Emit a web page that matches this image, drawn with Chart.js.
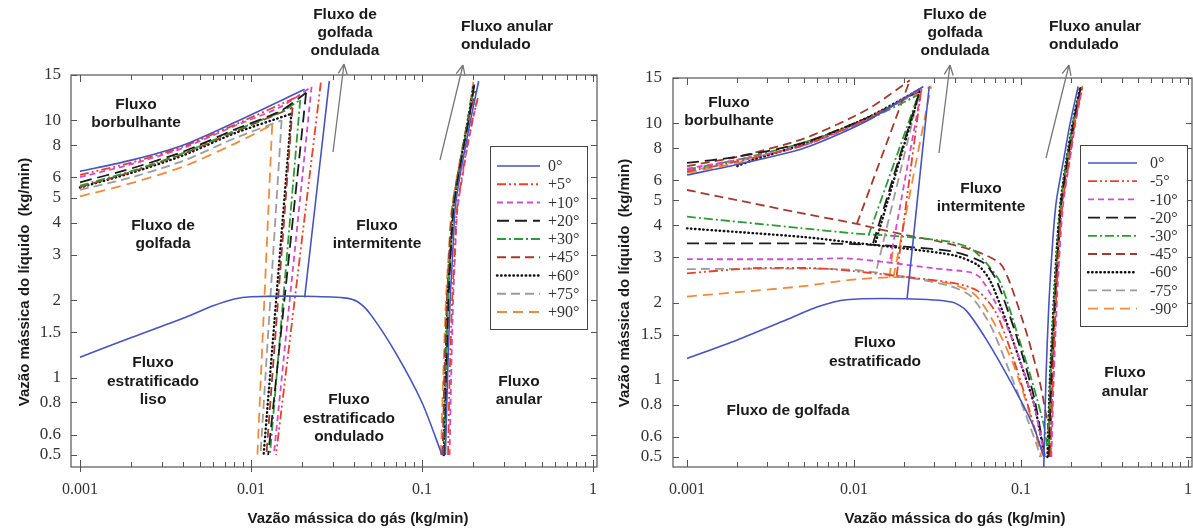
<!DOCTYPE html>
<html>
<head>
<meta charset="utf-8">
<script src="https://cdn.jsdelivr.net/npm/chart.js@4.4.1/dist/chart.umd.min.js"></script>
<style>
html, body { margin: 0; padding: 0; background: #fff; }
#wrap { position: relative; width: 1193px; height: 530px; overflow: hidden; }
.painel { position: absolute; top: 0; height: 530px; }
</style>
</head>
<body>
<div id="wrap">
  <div class="painel" style="left:0;width:600px"><canvas id="graficoEsq" width="600" height="530"></canvas></div>
  <div class="painel" style="left:600px;width:593px"><canvas id="graficoDir" width="593" height="530"></canvas></div>
</div>
<script>
// eixos
const yTicks = [0.5, 0.6, 0.8, 1, 1.5, 2, 3, 4, 5, 6, 8, 10, 15];
const xTicks = [0.001, 0.01, 0.1, 1];
const xMenores = [0.002, 0.003, 0.004, 0.005, 0.006, 0.007, 0.008, 0.009,
                  0.02, 0.03, 0.04, 0.05, 0.06, 0.07, 0.08, 0.09,
                  0.2, 0.3, 0.4, 0.5, 0.6, 0.7, 0.8, 0.9];

const angulosEsq = ['0°', '+5°', '+10°', '+20°', '+30°', '+45°', '+60°', '+75°', '+90°'];
const angulosDir = ['0°', '-5°', '-10°', '-20°', '-30°', '-45°', '-60°', '-75°', '-90°'];

// painel esquerdo (inclinações positivas): cada série = lista de trechos [x, y]
const esq0 = [
    [[0.001, 6.33], [0.002, 7.0], [0.004, 8.0], [0.008, 9.8], [0.0206, 13.2]],
    [[0.0287, 14.2], [0.0206, 2.05]],
    [[0.001, 1.2], [0.002, 1.43], [0.004, 1.7], [0.006, 1.9], [0.008, 2.02], [0.01, 2.06], [0.02, 2.07], [0.035, 2.04], [0.042, 1.97], [0.05, 1.76], [0.07, 1.25], [0.1, 0.8], [0.131, 0.5]],
    [[0.137, 0.5], [0.141, 1], [0.146, 2], [0.151, 3], [0.156, 4.5], [0.166, 6], [0.18, 8], [0.195, 10.5], [0.2145, 14.2]]
];
const esqP5 = [
    [[0.001, 6.14], [0.002, 6.85], [0.004, 7.9], [0.008, 9.6], [0.02, 12.6]],
    [[0.0256, 14.0], [0.014, 0.5]],
    [[0.142, 0.5], [0.145, 1], [0.15, 2], [0.155, 3], [0.16, 4.5], [0.171, 6], [0.184, 8], [0.197, 10], [0.212, 12.2]]
];
const esqP10 = [
    [[0.001, 6.01], [0.002, 6.75], [0.004, 7.8], [0.008, 9.5], [0.015, 11.3], [0.0226, 13.5]],
    [[0.0226, 13.5], [0.0136, 0.5]],
    [[0.145, 0.5], [0.148, 1], [0.152, 2], [0.156, 3], [0.161, 4.5], [0.172, 6], [0.185, 8], [0.198, 10], [0.21, 12.0]]
];
const esqP20 = [
    [[0.001, 5.74], [0.002, 6.5], [0.004, 7.55], [0.008, 9.2], [0.015, 10.9], [0.021, 12.8]],
    [[0.021, 12.8], [0.0126, 0.5]],
    [[0.136, 0.5], [0.139, 1], [0.143, 2], [0.147, 3], [0.153, 4.5], [0.163, 6], [0.176, 8], [0.19, 10.5], [0.203, 14.0]]
];
const esqP30 = [
    [[0.001, 5.57], [0.002, 6.35], [0.004, 7.45], [0.008, 9.1], [0.015, 10.8], [0.0194, 12.0]],
    [[0.0194, 12.0], [0.0129, 0.5]],
    [[0.135, 0.5], [0.138, 1], [0.142, 2], [0.146, 3], [0.152, 4.5], [0.162, 6], [0.175, 8], [0.189, 10.5], [0.202, 13.8]]
];
const esqP45 = [
    [[0.001, 5.5], [0.002, 6.3], [0.004, 7.4], [0.008, 9.0], [0.0175, 11.2]],
    [[0.0175, 11.2], [0.0123, 0.5]],
    [[0.132, 0.5], [0.135, 1], [0.14, 2], [0.144, 3], [0.15, 4.5], [0.161, 6], [0.175, 8], [0.19, 10.5], [0.205, 13.0]]
];
const esqP60 = [
    [[0.001, 5.48], [0.002, 6.25], [0.004, 7.3], [0.008, 8.9], [0.0172, 10.6]],
    [[0.0172, 10.6], [0.01185, 0.5]],
    [[0.134, 0.5], [0.137, 1], [0.141, 2], [0.146, 3], [0.152, 4.5], [0.162, 6], [0.175, 8], [0.188, 10.5], [0.2, 13.5]]
];
const esqP75 = [
    [[0.001, 5.37], [0.002, 6.0], [0.004, 6.95], [0.008, 8.5], [0.0151, 10.0]],
    [[0.0151, 10.0], [0.01136, 0.5]],
    [[0.133, 0.5], [0.136, 1], [0.14, 2], [0.145, 3], [0.151, 4.5], [0.161, 6], [0.174, 8], [0.187, 10.5], [0.199, 13.7]]
];
const esqP90 = [
    [[0.001, 5.06], [0.002, 5.7], [0.004, 6.6], [0.008, 8.1], [0.0133, 9.6]],
    [[0.0133, 9.6], [0.0109, 0.5]],
    [[0.129, 0.5], [0.133, 1], [0.138, 2], [0.143, 3], [0.149, 4.5], [0.16, 6], [0.173, 8], [0.187, 10.5], [0.1995, 14.1]]
];

// painel direito (inclinações negativas)
const dir0 = [
    [[0.001, 6.28], [0.002, 6.9], [0.005, 7.98], [0.0116, 10.1], [0.026, 13.9]],
    [[0.0282, 13.9], [0.0208, 2.08]],
    [[0.001, 1.21], [0.002, 1.43], [0.004, 1.72], [0.006, 1.92], [0.009, 2.05], [0.02, 2.07], [0.0385, 2.01], [0.047, 1.86], [0.0622, 1.43], [0.09, 0.94], [0.1186, 0.66], [0.137, 0.5]],
    [[0.137, 0.457], [0.141, 1], [0.147, 2], [0.155, 3.5], [0.163, 5], [0.18, 7.2], [0.197, 10], [0.22, 13.9]]
];
const dirM5 = [
    [[0.001, 6.47], [0.002, 7.1], [0.005, 8.2], [0.012, 10.4], [0.025, 13.6]],
    [[0.018, 2.55], [0.0253, 13.6]],
    [[0.001, 2.6], [0.0025, 2.72], [0.006, 2.72], [0.01, 2.65], [0.02, 2.52], [0.04, 2.38], [0.055, 2.22], [0.07, 1.85], [0.085, 1.35], [0.105, 0.88], [0.125, 0.6], [0.138, 0.5]],
    [[0.15, 0.5], [0.155, 1], [0.162, 2], [0.17, 3.5], [0.178, 5], [0.195, 7.2], [0.21, 10], [0.232, 13.8]]
];
const dirM10 = [
    [[0.001, 6.65], [0.002, 7.2], [0.005, 8.2], [0.012, 10.3], [0.0254, 13.6]],
    [[0.0165, 2.95], [0.0254, 13.6]],
    [[0.001, 2.95], [0.005, 2.95], [0.009, 2.97], [0.015, 2.88], [0.03, 2.72], [0.05, 2.62], [0.057, 2.5], [0.075, 1.85], [0.094, 1.3], [0.118, 0.83], [0.135, 0.55], [0.14, 0.5]],
    [[0.152, 0.5], [0.157, 1], [0.164, 2], [0.172, 3.5], [0.18, 5], [0.196, 7.2], [0.212, 10], [0.233, 13.8]]
];
const dirM20 = [
    [[0.001, 7.0], [0.002, 7.4], [0.005, 8.4], [0.012, 10.5], [0.0248, 13.4]],
    [[0.013, 3.4], [0.0248, 13.4]],
    [[0.001, 3.4], [0.005, 3.4], [0.01, 3.38], [0.02, 3.3], [0.04, 3.15], [0.06, 2.85], [0.07, 2.5], [0.085, 1.8], [0.1, 1.3], [0.12, 0.85], [0.136, 0.55], [0.14, 0.5]],
    [[0.147, 0.5], [0.152, 1], [0.16, 2], [0.168, 3.5], [0.175, 5], [0.19, 7.2], [0.207, 10], [0.228, 13.8]]
];
const dirM30 = [
    [[0.001, 6.6], [0.002, 7.2], [0.005, 8.4], [0.012, 10.3], [0.0243, 12.9]],
    [[0.0122, 3.65], [0.0243, 12.9]],
    [[0.001, 4.32], [0.0048, 3.9], [0.01, 3.72], [0.019, 3.62], [0.0375, 3.45], [0.05, 3.25], [0.062, 2.85], [0.075, 2.4], [0.094, 1.55], [0.119, 0.94], [0.139, 0.64], [0.143, 0.55]],
    [[0.146, 0.55], [0.15, 1], [0.158, 2], [0.166, 3.5], [0.174, 5], [0.188, 7.2], [0.205, 10], [0.226, 13.6]]
];
const dirM45 = [
    [[0.001, 6.8], [0.002, 7.4], [0.005, 8.7], [0.012, 11.3], [0.0216, 14.7]],
    [[0.0104, 4.05], [0.0216, 14.7]],
    [[0.001, 5.49], [0.00475, 4.47], [0.0104, 4.05], [0.019, 3.7], [0.033, 3.45], [0.055, 3.15], [0.0749, 2.84], [0.086, 2.38], [0.108, 1.52], [0.13, 0.97], [0.146, 0.64], [0.149, 0.52]],
    [[0.15, 0.52], [0.154, 1], [0.161, 2], [0.169, 3.5], [0.177, 5], [0.193, 7.2], [0.21, 10], [0.232, 13.8]]
];
const dirM60 = [
    [[0.002, 6.8], [0.0025, 7.2], [0.005, 8.3], [0.012, 10.5], [0.025, 13.6]],
    [[0.0135, 3.45], [0.025, 13.6]],
    [[0.001, 3.89], [0.005, 3.6], [0.01, 3.42], [0.02, 3.25], [0.04, 3.05], [0.055, 2.8], [0.065, 2.45], [0.08, 1.75], [0.1, 1.15], [0.12, 0.8], [0.135, 0.55], [0.138, 0.5]],
    [[0.144, 0.5], [0.149, 1], [0.157, 2], [0.165, 3.5], [0.173, 5], [0.187, 7.2], [0.204, 10], [0.226, 13.8]]
];
const dirM75 = [
    [[0.001, 6.5], [0.002, 7.1], [0.005, 8.2], [0.012, 10.4], [0.0248, 13.4]],
    [[0.0137, 2.71], [0.0248, 13.4]],
    [[0.001, 2.7], [0.005, 2.71], [0.01, 2.68], [0.02, 2.52], [0.0375, 2.32], [0.05, 2.12], [0.065, 1.65], [0.08, 1.2], [0.1, 0.82], [0.125, 0.55], [0.13, 0.5]],
    [[0.145, 0.5], [0.15, 1], [0.158, 2], [0.166, 3.5], [0.174, 5], [0.188, 7.2], [0.205, 10], [0.227, 13.8]]
];
const dirM90 = [
    [[0.001, 6.4], [0.002, 7.0], [0.005, 8.3], [0.012, 10.5], [0.0289, 13.9]],
    [[0.0172, 2.5], [0.0289, 13.9]],
    [[0.0163, 2.5], [0.0172, 3.3]],
    [[0.001, 2.11], [0.0048, 2.31], [0.0095, 2.45], [0.019, 2.51], [0.0375, 2.37], [0.052, 2.17], [0.0622, 1.87], [0.075, 1.5], [0.09, 1.15], [0.11, 0.78], [0.128, 0.55], [0.132, 0.5]],
    [[0.146, 0.5], [0.151, 1], [0.159, 2], [0.167, 3.5], [0.175, 5], [0.19, 7.2], [0.207, 10], [0.233, 14.0]]
];

const seriesEsq = [esq0, esqP5, esqP10, esqP20, esqP30, esqP45, esqP60, esqP75, esqP90];
const seriesDir = [dir0, dirM5, dirM10, dirM20, dirM30, dirM45, dirM60, dirM75, dirM90];

// estilos
const cores = ['#4654c0', '#e8412e', '#d24bd2', '#1c1c1c', '#2e9a36', '#a43a2e', '#111111', '#9c9c9c', '#f28a3a'];
const tracos = [[], [9, 3, 2, 3, 2, 3], [6, 4], [12, 6], [9, 3, 2, 3], [9, 5], [0.5, 3.6], [9, 5], [10, 6]];
const larguras = [1.6, 1.8, 1.8, 1.8, 1.8, 1.8, 2.4, 1.8, 1.8];

const FONTE_SANS = '"Liberation Sans", Arial, sans-serif';
const FONTE_SERIF = '"Liberation Serif", "Times New Roman", serif';

function montarDatasets(series) {
    const ds = [];
    series.forEach((trechos, i) => {
        trechos.forEach(trecho => {
            ds.push({
                data: trecho.map(p => ({ x: p[0], y: p[1] })),
                borderColor: cores[i],
                borderWidth: larguras[i],
                borderDash: tracos[i],
                borderCapStyle: i === 6 ? 'round' : 'butt',
                showLine: true,
                pointRadius: 0,
                pointHoverRadius: 0,
                tension: 0.25,
                fill: false
            });
        });
    });
    return ds;
}

function desenharSeta(ctx, x0, y0, x1, y1) {
    const ang = Math.atan2(y1 - y0, x1 - x0);
    ctx.beginPath();
    ctx.moveTo(x0, y0);
    ctx.lineTo(x1, y1);
    [0.42, -0.42].forEach(d => {
        ctx.moveTo(x1, y1);
        ctx.lineTo(x1 - 11 * Math.cos(ang + d), y1 - 11 * Math.sin(ang + d));
    });
    ctx.stroke();
}

const decoracao = {
    id: 'decoracao',
    afterDraw(chart, args, cfg) {
        const { ctx, chartArea: a, scales: { x, y } } = chart;
        const dx = cfg.dx;
        ctx.save();

        // moldura
        ctx.strokeStyle = '#555';
        ctx.lineWidth = 1.2;
        ctx.setLineDash([]);
        ctx.strokeRect(a.left, a.top, a.right - a.left, a.bottom - a.top);

        // marcas dos eixos (para dentro)
        ctx.lineWidth = 1;
        ctx.beginPath();
        xMenores.forEach(v => {
            const px = Math.round(x.getPixelForValue(v)) + 0.5;
            ctx.moveTo(px, a.bottom); ctx.lineTo(px, a.bottom - 5);
            ctx.moveTo(px, a.top); ctx.lineTo(px, a.top + 5);
        });
        xTicks.forEach(v => {
            const px = Math.round(x.getPixelForValue(v)) + 0.5;
            ctx.moveTo(px, a.bottom + (cfg.marcaFora ? 5 : 0)); ctx.lineTo(px, a.bottom - 7);
            ctx.moveTo(px, a.top); ctx.lineTo(px, a.top + 7);
        });
        yTicks.forEach(v => {
            const py = Math.round(y.getPixelForValue(v)) + 0.5;
            ctx.moveTo(a.left, py); ctx.lineTo(a.left + 6, py);
            ctx.moveTo(a.right, py); ctx.lineTo(a.right - 6, py);
        });
        ctx.stroke();

        // títulos dos eixos
        ctx.fillStyle = '#1a1a1a';
        ctx.font = 'bold 15px ' + FONTE_SANS;
        ctx.textAlign = 'center';
        ctx.textBaseline = 'middle';
        ctx.fillText('Vazão mássica do gás (kg/min)', cfg.tituloX[0] - dx, cfg.tituloX[1]);
        ctx.save();
        ctx.translate(cfg.tituloY[0] - dx, cfg.tituloY[1]);
        ctx.rotate(-Math.PI / 2);
        ctx.fillText('Vazão mássica do líquido  (kg/min)', 0, 0);
        ctx.restore();

        // regiões de escoamento
        ctx.font = 'bold 15.5px ' + FONTE_SANS;
        cfg.textos.forEach(t => ctx.fillText(t[0], t[1] - dx, t[2]));
        ctx.textAlign = 'left';
        cfg.textosEsq.forEach(t => ctx.fillText(t[0], t[1] - dx, t[2]));

        // setas
        ctx.strokeStyle = '#777';
        ctx.lineWidth = 1.3;
        cfg.setas.forEach(s => desenharSeta(ctx, s[0] - dx, s[1], s[2] - dx, s[3]));

        // legenda
        const L = cfg.legenda;
        ctx.fillStyle = '#fff';
        ctx.fillRect(L.x - dx, L.y, L.w, L.h);
        ctx.strokeStyle = '#444';
        ctx.lineWidth = 1;
        ctx.strokeRect(L.x - dx + 0.5, L.y + 0.5, L.w, L.h);
        ctx.font = '16px ' + FONTE_SERIF;
        ctx.textAlign = 'left';
        cfg.rotulos.forEach((r, i) => {
            const ly = L.y0 + i * L.passo;
            ctx.strokeStyle = cores[i];
            ctx.lineWidth = larguras[i];
            ctx.lineCap = i === 6 ? 'round' : 'butt';
            ctx.setLineDash(tracos[i]);
            ctx.beginPath();
            ctx.moveTo(L.a0 - dx, ly);
            ctx.lineTo(L.a1 - dx, ly);
            ctx.stroke();
            ctx.setLineDash([]);
            ctx.fillStyle = '#333';
            ctx.fillText(r, L.tx - dx, ly + 1);
        });
        ctx.restore();
    }
};

function eixoX(min, max) {
    return {
        type: 'logarithmic', position: 'bottom', min: min, max: max,
        grid: { display: false, drawTicks: false },
        border: { display: false },
        afterBuildTicks: s => { s.ticks = xTicks.map(v => ({ value: v })); },
        afterFit: s => { s.height = 63; s.paddingLeft = 0; s.paddingRight = 0; },
        ticks: {
            autoSkip: false, maxRotation: 0, padding: 13, color: '#333',
            font: { family: FONTE_SERIF, size: 16 },
            callback: v => String(v)
        }
    };
}

function eixoY(min, largura, pad) {
    return {
        type: 'logarithmic', position: 'left', min: min, max: 15,
        grid: { display: false, drawTicks: false },
        border: { display: false },
        afterBuildTicks: s => { s.ticks = yTicks.map(v => ({ value: v })); },
        afterFit: s => { s.width = largura; s.paddingTop = 0; s.paddingBottom = 0; },
        ticks: {
            autoSkip: false, padding: pad, color: '#333',
            font: { family: FONTE_SERIF, size: 17 },
            callback: v => String(v)
        }
    };
}

function criarGrafico(id, series, xmin, xmax, ymin, largY, padY, topo, direita, cfg) {
    return new Chart(document.getElementById(id), {
        type: 'scatter',
        data: { datasets: montarDatasets(series) },
        options: {
            responsive: false,
            animation: false,
            devicePixelRatio: 1,
            events: [],
            layout: { padding: { top: topo, right: direita, left: 0, bottom: 0 } },
            scales: { x: eixoX(xmin, xmax), y: eixoY(ymin, largY, padY) },
            plugins: { legend: { display: false }, tooltip: { enabled: false }, decoracao: cfg }
        },
        plugins: [decoracao]
    });
}

criarGrafico('graficoEsq', seriesEsq, 0.000886, 1.055, 0.449, 71, 10, 75, 3, {
    dx: 0,
    marcaFora: true,
    tituloX: [358, 519],
    tituloY: [25, 282],
    textos: [
        ['Fluxo', 136, 105], ['borbulhante', 136, 123],
        ['Fluxo de', 163, 226], ['golfada', 163, 244],
        ['Fluxo', 153, 363], ['estratificado', 153, 382], ['liso', 153, 400],
        ['Fluxo', 349, 400], ['estratificado', 349, 419], ['ondulado', 349, 437],
        ['Fluxo', 377, 226], ['intermitente', 377, 244],
        ['Fluxo', 519, 382], ['anular', 519, 400],
        ['Fluxo de', 345, 15], ['golfada', 345, 33], ['ondulada', 345, 51]
    ],
    textosEsq: [['Fluxo anular', 461, 27], ['ondulado', 461, 45]],
    setas: [[333, 152, 344, 64], [440, 160, 463, 65]],
    legenda: { x: 490, y: 146, w: 97, h: 183, a0: 497, a1: 540, tx: 548, y0: 166, passo: 18.25 },
    rotulos: angulosEsq
});

criarGrafico('graficoDir', seriesDir, 0.000824, 1.057, 0.457, 73, 11, 78, 1, {
    dx: 600,
    marcaFora: false,
    tituloX: [955, 519],
    tituloY: [625, 283],
    textos: [
        ['Fluxo', 729, 103], ['borbulhante', 729, 121],
        ['Fluxo', 981, 189], ['intermitente', 981, 207],
        ['Fluxo', 875, 343], ['estratificado', 875, 362],
        ['Fluxo de golfada', 788, 411],
        ['Fluxo', 1125, 373], ['anular', 1125, 392],
        ['Fluxo de', 955, 15], ['golfada', 955, 33], ['ondulada', 955, 51]
    ],
    textosEsq: [['Fluxo anular', 1049, 27], ['ondulado', 1049, 45]],
    setas: [[939, 153, 950, 65], [1046, 158, 1069, 65]],
    legenda: { x: 1080, y: 145, w: 107, h: 181, a0: 1088, a1: 1137, tx: 1150, y0: 163, passo: 18.2 },
    rotulos: angulosDir
});
</script>
</body>
</html>
